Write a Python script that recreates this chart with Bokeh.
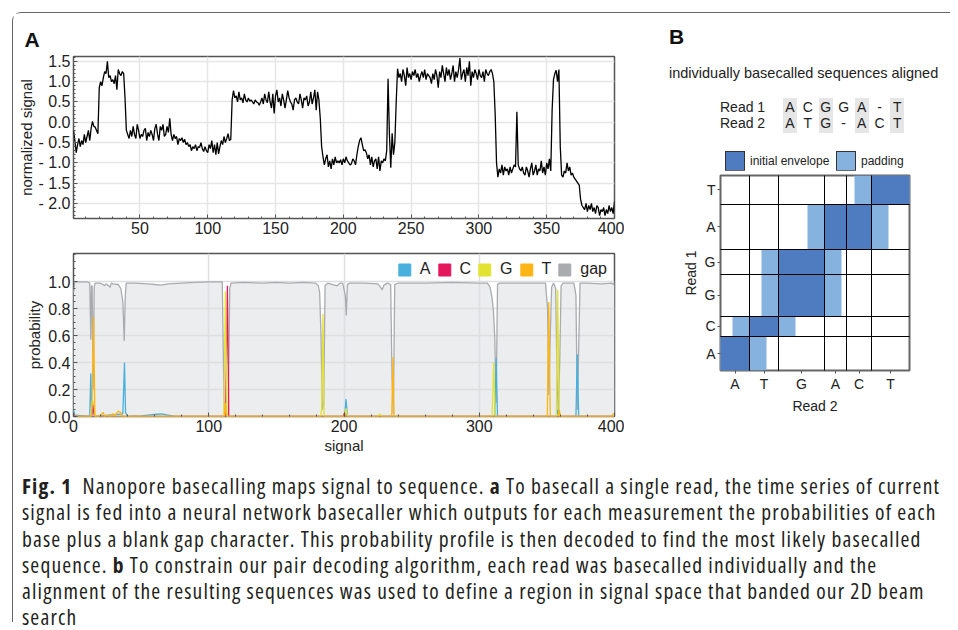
from bokeh.plotting import figure
from bokeh.models import (Range1d, SingleIntervalTicker, FixedTicker, CustomJSTickFormatter,
                          Legend, LegendItem, Div)
from bokeh.layouts import column, row
from bokeh.embed import file_html
from bokeh.resources import INLINE

FONT = "Liberation Sans"
NAN = float("nan")

# ---------------- data: panel A (top) normalized signal ----------------
signal = [
    -0.2, -0.45, -0.75, -0.55, -0.4, -0.6, -0.45, -0.55, -0.3, -0.5,
    -0.35, -0.2, -0.45, -0.15, 0.02, -0.1, -0.12, -0.2, -0.28, 0.85,
    1.0, 0.9, 1.1, 1.25, 1.2, 1.5, 1.1, 1.15, 1.0, 1.05,
    0.95, 1.15, 0.8, 1.3, 1.2, 1.15, 1.25, 1.2, 0.6, -0.2,
    -0.3, -0.4, -0.2, -0.35, -0.1, -0.3, -0.4, -0.05, -0.2, -0.4,
    -0.3, -0.35, -0.2, -0.15, -0.45, -0.25, -0.35, -0.2, -0.3, -0.45,
    -0.15, -0.05, -0.3, -0.45, -0.1, -0.2, -0.05, -0.35, -0.3, -0.1,
    -0.25, 0.1, -0.3, -0.45, -0.3, -0.4, -0.35, -0.55, -0.4, -0.45,
    -0.38, -0.5, -0.42, -0.55, -0.5, -0.6, -0.55, -0.7, -0.6, -0.65,
    -0.55, -0.7, -0.6, -0.62, -0.5, -0.65, -0.72, -0.6, -0.7, -0.75,
    -0.55, -0.65, -0.45, -0.75, -0.55, -0.8, -0.5, -0.78, -0.6, -0.45,
    -0.55, -0.35, -0.5, -0.4, -0.28, -0.45, -0.42, 0.55, 0.78, 0.6,
    0.65, 0.5, 0.75, 0.55, 0.6, 0.48, 0.7, 0.55, 0.5, 0.6,
    0.52, 0.55, 0.5, 0.45, 0.55, 0.5, 0.48, 0.42, 0.5, 0.6,
    0.45, 0.7, 0.55, 0.48, 0.75, 0.5, 0.35, 0.7, 0.22, 0.65,
    0.8, 0.5, 0.6, 0.4, 0.7, 0.55, 0.35, 0.55, 0.78, 0.6,
    0.5, 0.45, 0.3, 0.55, 0.6, 0.5, 0.45, 0.7, 0.55, 0.35,
    0.6, 0.55, 0.65, 0.4, 0.5, 0.75, 0.45, 0.6, 0.8, 0.3,
    0.75, 0.55, 0.1, -0.6, -0.85, -1.05, -0.9, -0.8, -1.1, -0.95,
    -1.15, -0.9, -1.05, -0.85, -1.0, -0.95, -1.0, -0.92, -1.05, -0.9,
    -1.0, -0.85, -0.95, -1.0, -1.05, -1.02, -0.9, -0.95, -1.05, -0.8,
    -0.6, -0.45, -0.38, -0.55, -0.7, -0.68, -0.75, -0.9, -0.8, -1.05,
    -0.85, -1.1, -0.95, -0.9, -1.15, -0.85, -1.2, -0.95, -1.0, -0.9,
    -0.95, -0.7, 1.07, -0.3, -1.12, -0.27, -0.8, -0.5, 0.5, 1.32,
    1.1, 1.2, 1.0, 1.3, 1.15, 0.9, 1.35, 1.1, 1.2, 1.05,
    1.25, 1.15, 1.3, 1.1, 1.2, 1.0, 1.15, 1.25, 1.1, 1.3,
    1.05, 1.2, 1.15, 1.1, 0.95, 1.2, 1.05, 1.3, 1.15, 0.85,
    1.25, 1.1, 1.4, 1.2, 1.0, 1.35, 1.15, 1.3, 1.05, 1.2,
    1.4, 1.0, 1.25, 1.1, 1.3, 1.58, 1.05, 1.2, 1.3, 1.0,
    1.35, 1.15, 1.5, 0.9, 1.25, 1.1, 1.3, 1.2, 1.05, 1.3,
    1.15, 1.1, 1.25, 1.0, 1.3, 1.2, 1.15, 1.25, 1.3, 1.2,
    1.0, 0.2, -1.0, -1.35, -1.15, -1.25, -1.05, -1.3, -1.1, -1.2,
    -1.15, -1.3, -1.1, -1.25, -1.15, -1.05, -1.1, 0.26, -1.05, -1.15,
    -1.2, -1.1, -1.25, -1.3, -1.1, -1.2, -1.35, -1.15, -1.0, -1.3,
    -1.2, -1.05, -1.3, -1.15, -1.2, -0.95, -1.25, -1.1, -1.3, -1.0,
    -1.15, -0.9, -1.2, 0.3, 1.05, 1.2, 1.28, 1.0, 1.3, -0.6,
    -1.3, -1.35, -1.2, -1.25, -1.0, -1.2, -1.1, -1.3, -1.25, -1.35,
    -1.4, -1.45, -1.5, -1.55, -1.9, -2.05, -2.1, -2.15, -2.0, -2.2,
    -2.05, -2.15, -2.0, -2.2, -2.1, -2.25, -2.05, -2.1, -2.3, -2.15,
    -2.2, -2.1, -2.3, -2.15, -2.25, -2.05, -2.2, -2.1, -2.25, -1.95,
]
signal_t = list(range(1, len(signal) + 1))

# ---------------- data: panel A (bottom) probabilities ----------------
gap_t = [0, 1, 5, 10, 12, 12.8, 13.3, 13.8, 14.5, 15.3, 16, 19, 21, 23, 24, 25, 27, 28, 29, 33,
         35, 36.5, 37.5, 38.3, 39, 45, 55, 60, 65, 70, 80, 90, 100, 110, 110.7, 111.5, 113,
         114.5, 115.5, 116.5, 125, 140, 150, 160, 170, 179, 181, 182, 183, 184, 185, 186, 188,
         195, 197, 199, 201, 201.7, 202.5, 204, 215, 225, 227, 228.2, 229.5, 232, 234.5, 235.5,
         236.5, 237.5, 240, 260, 280, 300, 306, 308, 309.5, 310.5, 311.5, 312.5, 313.5, 315,
         330, 345, 349, 350.5, 351.5, 352.5, 353.5, 355, 356.5, 357.5, 358.5, 359.5, 360.5, 362,
         370, 371.5, 372.5, 373.5, 374.5, 380, 390, 398, 399, 400]
gap_p = [0.92, 1.0, 1.0, 1.0, 0.99, 0.57, 0.97, 0.97, 0.2, 0.96, 0.99, 0.99, 0.985, 0.97, 0.985,
         0.98, 0.96, 0.99, 0.985, 0.98, 0.95, 0.85, 0.56, 0.9, 0.99, 0.99, 0.985, 0.98, 0.975,
         0.985, 0.99, 0.995, 1.0, 1.0, 0.5, 0.02, 0.01, 0.02, 0.95, 0.99, 0.995, 0.99, 0.995,
         0.99, 0.995, 0.99, 0.97, 0.92, 0.6, 0.05, 0.1, 0.97, 0.99, 0.97, 0.99, 0.99, 0.9, 0.75,
         0.98, 0.99, 0.99, 0.985, 0.96, 0.94, 0.975, 0.99, 0.98, 0.3, 0.02, 0.98, 0.99, 0.99,
         0.995, 0.99, 0.99, 0.96, 0.88, 0.78, 0.58, 0.1, 0.98, 0.99, 0.99, 0.99, 0.99, 0.8,
         0.16, 0.6, 0.96, 0.99, 0.95, 0.3, 0.02, 0.4, 0.97, 0.99, 0.99, 0.9, 0.05, 0.5, 0.99,
         0.99, 0.985, 0.99, 0.98, 0.99]

a_t = [0, 1, 12, 12.8, 13.5, 14.5, 16, 36.5, 37.7, 38.5, 40, 50, 55, 60, 65, 70, 75, 200.5,
       201.5, 202.5, 311.5, 312.5, 313.5, 357, 358.3, 359.3, 371.5, 372.5, 373.5, 400]
a_p = [0.05, 0.01, 0.0, 0.32, 0.02, 0.05, 0.0, 0.02, 0.4, 0.03, 0.0, 0.005, 0.01, 0.015, 0.02,
       0.01, 0.0, 0.0, 0.13, 0.0, 0.0, 0.43, 0.0, 0.0, 0.05, 0.0, 0.0, 0.46, 0.0, 0.0]

c_t = [0, 1, 13.5, 14.5, 15.5, 112.5, 113.8, 114.8, 199.5, 200.5, 201.5, 400]
c_p = [0.02, 0.0, 0.0, 0.09, 0.0, 0.0, 0.97, 0.0, 0.0, 0.03, 0.0, 0.0]

g_t = [0, 13, 13.8, 15, 16, 111.2, 112.3, 113.5, 182.5, 183.5, 184.4, 185.3, 200.5, 201.5,
       202.5, 225, 226.5, 228, 309.5, 310.7, 311.8, 357, 358, 359.2, 400]
g_p = [0.0, 0.0, 0.12, 0.1, 0.0, 0.0, 0.93, 0.0, 0.0, 0.05, 0.76, 0.0, 0.0, 0.06, 0.0, 0.0,
       0.02, 0.0, 0.0, 0.4, 0.0, 0.0, 0.94, 0.0, 0.0]

t_t = [0, 13.5, 14.9, 15.8, 18, 20, 22, 23, 25, 27, 29, 31, 33, 35, 36, 111.5, 112.2, 113,
       235.3, 236.2, 237, 350.3, 351.4, 352.5, 358.5, 359.2, 360, 398, 399, 400]
t_p = [0.0, 0.0, 0.74, 0.0, 0.0, 0.01, 0.03, 0.0, 0.01, 0.0, 0.02, 0.01, 0.04, 0.03, 0.0, 0.0,
       0.1, 0.0, 0.0, 0.44, 0.0, 0.0, 0.85, 0.0, 0.0, 0.05, 0.0, 0.0, 0.02, 0.02]

bases = ["A", "C", "G", "T", "gap"]
base_colors = ["#47B0DC", "#E4175C", "#E2E233", "#FDB515", "#A9ABAE"]
prob_ticks = [0.0, 0.2, 0.4, 0.6, 0.8, 1.0]

# ---------------- data: panel B ----------------
read1_aln = list("ACGGA-T")
read2_aln = list("ATG-ACT")
read1_bounds = [0, 34, 55, 97, 122, 168, 197]     # signal boundaries of read 1 events
read2_bounds = [0, 29, 58, 104, 126, 151, 189]    # signal boundaries of read 2 events
pad_width = 17
band_labels = ["initial envelope", "padding"]
ENV = "#4F7CC0"
PAD = "#86B2E0"


def style_axis(ax, tick_size="16px", label_size="15px"):
    ax.axis_line_color = None
    ax.major_tick_in = 4
    ax.major_tick_out = 0
    ax.minor_tick_in = 2
    ax.minor_tick_out = 0
    ax.major_tick_line_color = "#555555"
    ax.minor_tick_line_color = "#555555"
    ax.major_label_text_font = FONT
    ax.major_label_text_font_size = tick_size
    ax.major_label_text_color = "#222222"
    ax.axis_label_text_font = FONT
    ax.axis_label_text_font_style = "normal"
    ax.axis_label_text_font_size = label_size
    ax.axis_label_text_color = "#222222"
    ax.major_label_standoff = 3
    ax.axis_label_standoff = 2


# ---------------- top plot ----------------
p1 = figure(width=611, height=227, min_border_left=60, min_border_right=10,
            min_border_top=43, min_border_bottom=22,
            x_range=Range1d(1, 400), y_range=Range1d(-2.37, 1.62),
            output_backend="svg", toolbar_location=None)
p1.line(signal_t, signal, line_color="black", line_width=1.3)
p1.title.text = "A"
p1.title.text_font = FONT
p1.title.text_font_size = "21px"
p1.title.text_font_style = "bold"
p1.title.text_color = "#111111"
p1.title.align = "left"
p1.title.offset = -49
p1.title.standoff = 12
p1.xaxis.ticker = SingleIntervalTicker(interval=50, num_minor_ticks=5)
p1.yaxis.ticker = SingleIntervalTicker(interval=0.5, num_minor_ticks=5)
p1.yaxis.formatter = CustomJSTickFormatter(
    code="return tick < -1e-9 ? '- ' + (-tick).toFixed(1) : tick.toFixed(1);")
p1.yaxis.axis_label = "normalized signal"
style_axis(p1.xaxis[0])
style_axis(p1.yaxis[0])
p1.yaxis.axis_label_standoff = 0
p1.grid.grid_line_color = "#E6E6E6"
p1.grid.grid_line_width = 1.5
p1.outline_line_color = "#555555"
p1.outline_line_width = 1.5

# ---------------- bottom plot ----------------
p2 = figure(width=611, height=218, min_border_left=60, min_border_right=10,
            min_border_top=13, min_border_bottom=42,
            x_range=Range1d(0, 400), y_range=Range1d(0, 1.21),
            output_backend="svg", toolbar_location=None)
p2.varea(x=gap_t, y1=0, y2=gap_p, fill_color="#ECEDEF", level="image")
p2.line(gap_t, gap_p, line_color=base_colors[4], line_width=1.3)
for xs, ys, c in [(a_t, a_p, base_colors[0]), (c_t, c_p, base_colors[1]),
                  (g_t, g_p, base_colors[2]), (t_t, t_p, base_colors[3])]:
    p2.line(xs, ys, line_color=c, line_width=1.3)
items = []
for name, c in zip(bases, base_colors):
    r = p2.quad(left=[NAN], right=[NAN], top=[NAN], bottom=[NAN], fill_color=c,
                line_color=c)
    items.append(LegendItem(label=name, renderers=[r]))
leg = Legend(items=items, orientation="horizontal", location="top_right",
             glyph_width=15, glyph_height=15, label_standoff=8, spacing=6, label_width=0,
             padding=2, margin=7, border_line_color=None, background_fill_alpha=0,
             label_text_font=FONT, label_text_font_size="16px", label_text_color="#222222")
p2.add_layout(leg)
p2.xaxis.ticker = SingleIntervalTicker(interval=100, num_minor_ticks=5)
p2.yaxis.ticker = FixedTicker(ticks=prob_ticks,
                              minor_ticks=[k * 0.05 for k in range(0, 25)])
p2.yaxis.formatter = CustomJSTickFormatter(code="return tick.toFixed(1);")
p2.xaxis.axis_label = "signal"
p2.yaxis.axis_label = "probability"
style_axis(p2.xaxis[0])
style_axis(p2.yaxis[0])
p2.ygrid.ticker = FixedTicker(ticks=prob_ticks)
p2.grid.grid_line_color = "#DEDFE1"
p2.grid.grid_line_width = 1.5
p2.outline_line_color = "#555555"
p2.outline_line_width = 1.5

# ---------------- panel B header (HTML) ----------------
ncol = len(read1_aln)
col_step = 17.9
first_col = 166
shade_cols = [k for k in range(ncol) if k % 2 == 0]
hdr = ['<div style="position:relative; width:326px; height:157px; '
       'font-family:\'Liberation Sans\', Arial, sans-serif; color:#222;">']
hdr.append('<div style="position:absolute; left:45px; top:13px; font-size:21px; '
           'line-height:21px; font-weight:bold; color:#111;">B</div>')
hdr.append('<div style="position:absolute; left:45px; top:53px; font-size:14.5px; '
           'line-height:15px; white-space:nowrap;">individually basecalled sequences aligned</div>')
for k in shade_cols:
    cx = first_col + col_step * k
    hdr.append(f'<div style="position:absolute; left:{cx - 7:.1f}px; top:85px; width:14px; '
               f'height:35px; background:#E6E6E6;"></div>')
for row_label, seq, top in [("Read 1", read1_aln, 87), ("Read 2", read2_aln, 103)]:
    hdr.append(f'<div style="position:absolute; left:96px; top:{top}px; font-size:14px; '
               f'line-height:14px; white-space:nowrap;">{row_label}</div>')
    for k, ch in enumerate(seq):
        cx = first_col + col_step * k
        hdr.append(f'<div style="position:absolute; left:{cx - 9:.1f}px; width:18px; '
                   f'text-align:center; top:{top}px; font-size:14px; line-height:14px;">{ch}</div>')
# legend of the band colours
for lab, col, left in zip(band_labels, [ENV, PAD], [101, 212]):
    hdr.append(f'<div style="position:absolute; left:{left}px; top:138px; width:20px; height:20px; '
               f'box-sizing:border-box; border:1.2px solid #333; background:{col};"></div>')
    hdr.append(f'<div style="position:absolute; left:{left + 25}px; top:142px; font-size:12px; '
               f'line-height:12px; white-space:nowrap;">{lab}</div>')
hdr.append('</div>')
header_b = Div(text="".join(hdr), width=326, height=157, margin=0)

# ---------------- panel B band grid ----------------
env = {}
i = j = -1
for a, b in zip(read1_aln, read2_aln):
    if a != "-":
        i += 1
    if b != "-":
        j += 1
    lo, hi = env.get(i, (j, j))
    env[i] = (min(lo, j), max(hi, j))
rows = sorted(env)
env_left = [read2_bounds[env[r][0]] for r in rows]
env_right = [read2_bounds[env[r][1] + 1] for r in rows]
row_bottom = [read1_bounds[r] for r in rows]
row_top = [read1_bounds[r + 1] for r in rows]

gb = figure(width=326, height=246, x_range=Range1d(0, read2_bounds[-1]),
            y_range=Range1d(0, read1_bounds[-1]),
            min_border_left=96, min_border_right=41, min_border_top=5, min_border_bottom=44,
            output_backend="svg", toolbar_location=None)
gb.quad(left=[l - pad_width for l in env_left], right=[r + pad_width for r in env_right],
        bottom=row_bottom, top=row_top, fill_color=PAD, line_color=None)
gb.quad(left=env_left, right=env_right, bottom=row_bottom, top=row_top,
        fill_color=ENV, line_color=None)
gb.xgrid.ticker = FixedTicker(ticks=read2_bounds[1:-1])
gb.ygrid.ticker = FixedTicker(ticks=read1_bounds[1:-1])
gb.grid.grid_line_color = "black"
gb.grid.grid_line_width = 1
gb.grid.level = "overlay"
read1_bases = [c for c in read1_aln if c != "-"]
read2_bases = [c for c in read2_aln if c != "-"]
x_centers = [(read2_bounds[k] + read2_bounds[k + 1]) / 2 for k in range(len(read2_bases))]
y_centers = [(read1_bounds[k] + read1_bounds[k + 1]) / 2 for k in range(len(read1_bases))]
gb.xaxis.ticker = FixedTicker(ticks=x_centers)
gb.yaxis.ticker = FixedTicker(ticks=y_centers)
gb.xaxis.formatter = CustomJSTickFormatter(args=dict(labels=read2_bases), code="return labels[index];")
gb.yaxis.formatter = CustomJSTickFormatter(args=dict(labels=read1_bases), code="return labels[index];")
gb.xaxis.axis_label = "Read 2"
gb.yaxis.axis_label = "Read 1"
for ax in (gb.xaxis[0], gb.yaxis[0]):
    style_axis(ax, tick_size="14px", label_size="14px")
    ax.major_tick_in = 0
    ax.major_tick_out = 3
    ax.major_label_standoff = 2
    ax.axis_label_standoff = 3
gb.outline_line_color = "#666666"
gb.outline_line_width = 2

# ---------------- caption ----------------
caption_lines = [
    "<b>Fig. 1</b>&nbsp; Nanopore basecalling maps signal to sequence. <b>a</b> To basecall a single read, the time series of current",
    "signal is fed into a neural network basecaller which outputs for each measurement the probabilities of each",
    "base plus a blank gap character. This probability profile is then decoded to find the most likely basecalled",
    "sequence. <b>b</b> To constrain our pair decoding algorithm, each read was basecalled individually and the",
    "alignment of the resulting sequences was used to define a region in signal space that banded our 2D beam",
    "search",
]
cap = Div(text=('<div style="font-family: \'Open Sans\', sans-serif; '
                'font-stretch: 75%; font-size: 21.5px; letter-spacing: 1.15px; line-height: 26.3px; '
                'color: #231F20; padding: 15px 0 0 9px; white-space: nowrap;">'
                + "<br>".join(caption_lines) + "</div>"),
          width=930, height=164, margin=0)

root = column(row(column(p1, p2), column(header_b, gb)), cap, margin=(12, 0, 0, 12),
              styles={"border-top": "1px solid #666", "border-left": "1px solid #666",
                      "border-top-left-radius": "9px"})

html = file_html(root, INLINE)
html = html.replace("</head>", "<style>html, body { overflow: hidden; }</style></head>", 1)
open("out.html", "w").write(html)
